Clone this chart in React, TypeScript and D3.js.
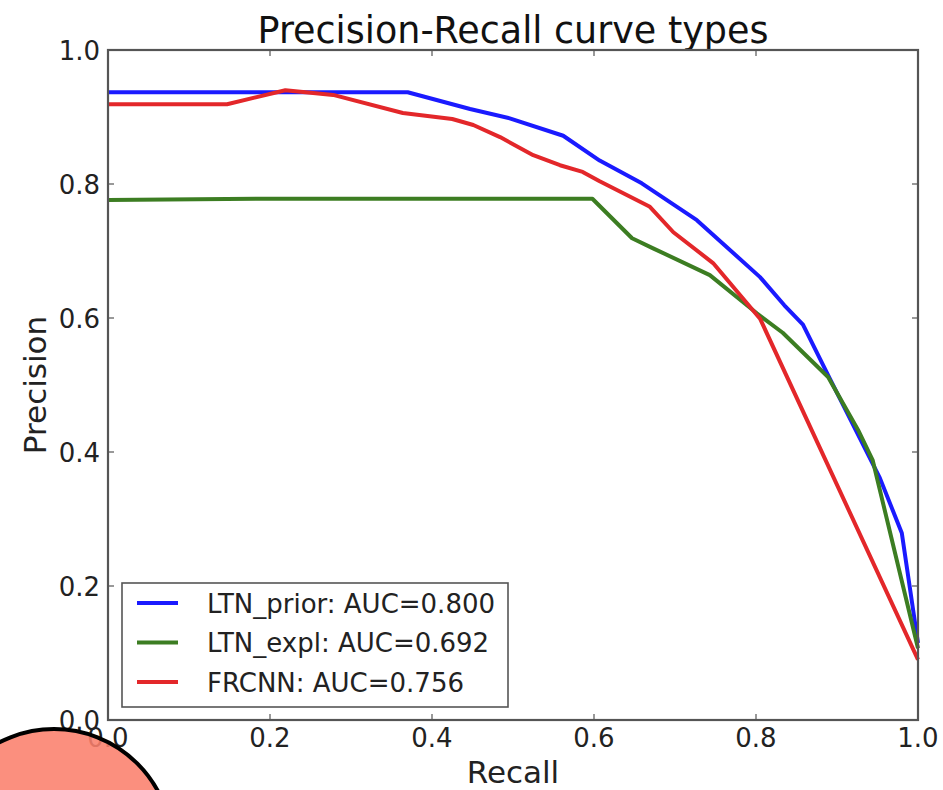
import React from 'react';
import * as d3 from 'd3';

// values
const priorRecall = [0, 0.37, 0.447, 0.496, 0.562, 0.607, 0.659, 0.727, 0.805, 0.835, 0.858, 0.891, 0.953, 0.98, 1.0];
const priorPrecision = [0.937, 0.937, 0.912, 0.898, 0.872, 0.835, 0.801, 0.746, 0.661, 0.619, 0.59, 0.51, 0.361, 0.279, 0.115];

const explRecall = [0, 0.2, 0.598, 0.647, 0.673, 0.743, 0.801, 0.833, 0.889, 0.926, 0.944, 1.0];
const explPrecision = [0.776, 0.778, 0.778, 0.719, 0.704, 0.664, 0.607, 0.578, 0.512, 0.433, 0.388, 0.107];

const frcnnRecall = [0, 0.147, 0.219, 0.278, 0.364, 0.425, 0.451, 0.484, 0.525, 0.558, 0.586, 0.607, 0.669, 0.698, 0.747, 0.805, 1.0];
const frcnnPrecision = [0.919, 0.919, 0.94, 0.933, 0.906, 0.897, 0.888, 0.87, 0.843, 0.828, 0.818, 0.804, 0.766, 0.728, 0.682, 0.599, 0.09];

const seriesNames = ['LTN_prior: AUC=0.800', 'LTN_expl: AUC=0.692', 'FRCNN: AUC=0.756'];
const seriesColors = ['#1a1aff', '#3c7d22', '#e3272a'];
const tickValues = [0, 0.2, 0.4, 0.6, 0.8, 1.0];

const W = 943;
const H = 790;
const margin = { top: 50, right: 25, bottom: 70, left: 108 };
const FONT = "'DejaVu Sans', sans-serif";

export default function App() {
  const x = d3.scaleLinear().domain([0, 1]).range([margin.left, W - margin.right]);
  const y = d3.scaleLinear().domain([0, 1]).range([H - margin.bottom, margin.top]);
  const line = d3.line<[number, number]>().x(d => x(d[0])).y(d => y(d[1]));

  const series = [
    d3.zip(priorRecall, priorPrecision) as [number, number][],
    d3.zip(explRecall, explPrecision) as [number, number][],
    d3.zip(frcnnRecall, frcnnPrecision) as [number, number][],
  ];

  const x0 = x(0), x1 = x(1), y0 = y(0), y1 = y(1);
  const tickLen = 6;
  const frame = '#555';

  // legend box
  const lg = { left: 122, top: 583, width: 386, height: 124, row: 39.5 };

  return (
    <svg width={W} height={H} style={{ position: 'absolute', left: 0, top: 0, background: '#fff' }}
      fontFamily={FONT}>
      <rect x={0} y={0} width={W} height={H} fill="#fff" />
      <text x={(x0 + x1) / 2} y={43} textAnchor="middle" fontSize={36.5} fill="#111">
        Precision-Recall curve types
      </text>

      {series.map((s, i) => (
        <path key={i} d={line(s) || ''} fill="none" stroke={seriesColors[i]} strokeWidth={4}
          strokeLinejoin="round" />
      ))}

      {/* ticks, inward on all sides */}
      {tickValues.map(t => (
        <g key={'t' + t} stroke={frame} strokeWidth={1.2}>
          <line x1={x(t)} x2={x(t)} y1={y0} y2={y0 - tickLen} />
          <line x1={x(t)} x2={x(t)} y1={y1} y2={y1 + tickLen} />
          <line x1={x0} x2={x0 + tickLen} y1={y(t)} y2={y(t)} />
          <line x1={x1} x2={x1 - tickLen} y1={y(t)} y2={y(t)} />
        </g>
      ))}
      <rect x={x0} y={y1} width={x1 - x0} height={y0 - y1} fill="none" stroke={frame} strokeWidth={2.2} />

      {tickValues.map(t => (
        <text key={'xl' + t} x={x(t)} y={y0 + 27} textAnchor="middle" fontSize={26} fill="#222">
          {t.toFixed(1)}
        </text>
      ))}
      {tickValues.map(t => (
        <text key={'yl' + t} x={x0 - 8} y={y(t) + 9.5} textAnchor="end" fontSize={26} fill="#222">
          {t.toFixed(1)}
        </text>
      ))}

      <text x={(x0 + x1) / 2} y={783} textAnchor="middle" fontSize={31} fill="#222">Recall</text>
      <text transform={`translate(46,${(y0 + y1) / 2}) rotate(-90)`} textAnchor="middle" fontSize={31}
        fill="#222">Precision</text>

      <g>
        <rect x={lg.left} y={lg.top} width={lg.width} height={lg.height} fill="#fff" stroke={frame}
          strokeWidth={1.6} />
        {seriesNames.map((name, i) => {
          const cy = lg.top + 20 + i * lg.row;
          return (
            <g key={name}>
              <line x1={lg.left + 15} x2={lg.left + 56} y1={cy} y2={cy} stroke={seriesColors[i]} strokeWidth={4} />
              <text x={lg.left + 85} y={cy + 9.5} fontSize={26} fill="#222">{name}</text>
            </g>
          );
        })}
      </g>

      {/* annotation marker over the corner */}
      <circle cx={54} cy={847} r={118} fill="#fa7f6c" fillOpacity={0.88} stroke="#000" strokeWidth={4} />
    </svg>
  );
}
